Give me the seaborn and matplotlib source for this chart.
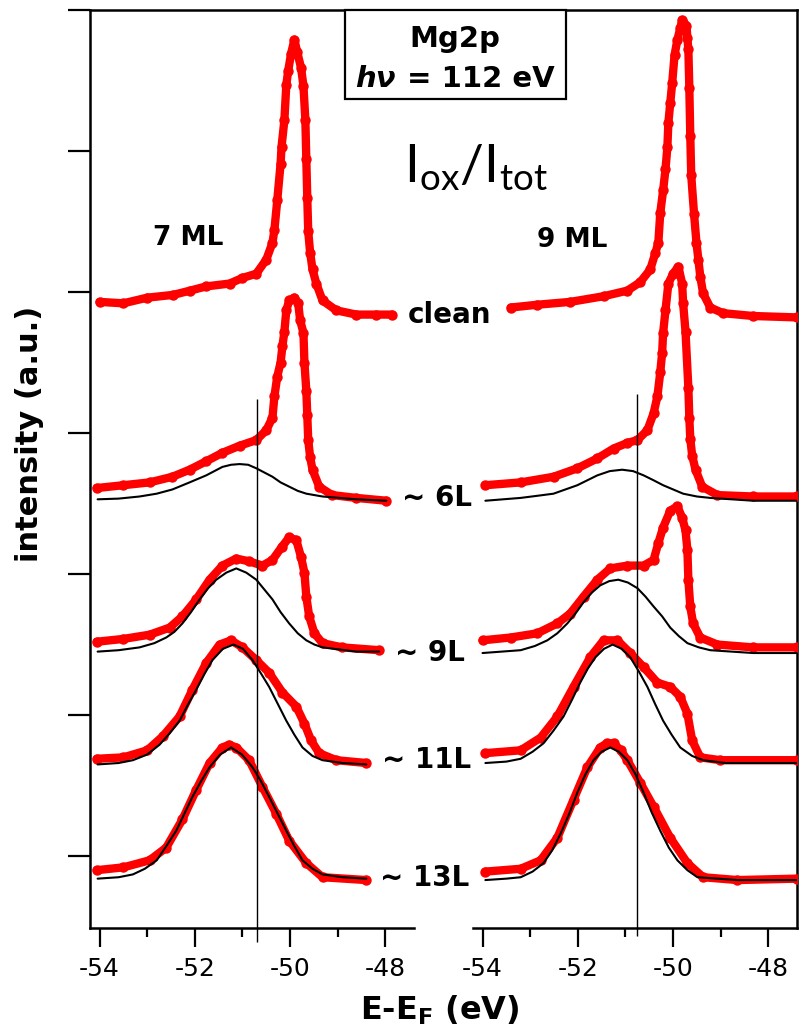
import matplotlib
matplotlib.use("Agg")
import matplotlib.pyplot as plt
import seaborn as sns
from matplotlib.patches import Rectangle

sns.set_style("white")
plt.rcParams["font.family"] = ["DejaVu Sans"]
plt.rcParams["text.color"] = "black"
plt.rcParams["axes.labelcolor"] = "black"
plt.rcParams["xtick.color"] = "black"
plt.rcParams["ytick.color"] = "black"

# ---------------- data (E in eV, intensity in a.u. with offsets) -------------
# 7 ML panel, measured spectra
E_7_clean = [-54.0, -53.5, -53.0, -52.45, -52.1, -51.76, -51.27, -51.0, -50.71, -50.5, -50.37, -50.33,
             -50.27, -50.2, -50.18, -50.12, -50.08, -50.04, -49.98, -49.91, -49.85, -49.77, -49.72,
             -49.68, -49.66, -49.64, -49.62, -49.58, -49.53, -49.45, -49.32, -49.03, -48.61, -48.19, -47.86]
I_7_clean = [3.93, 3.92, 3.96, 3.98, 4.01, 4.04, 4.06, 4.10, 4.13, 4.23, 4.35, 4.44,
             4.65, 4.91, 5.03, 5.22, 5.47, 5.57, 5.69, 5.79, 5.70, 5.59, 5.46,
             5.22, 4.94, 4.67, 4.43, 4.28, 4.16, 4.06, 3.94, 3.87, 3.84, 3.84, 3.84]

E_7_6L = [-54.06, -53.5, -52.95, -52.47, -52.11, -51.76, -51.42, -51.06, -50.71, -50.5, -50.37, -50.33,
          -50.27, -50.2, -50.16, -50.12, -50.08, -50.02, -49.91, -49.83, -49.79, -49.72, -49.70, -49.66,
          -49.64, -49.62, -49.58, -49.53, -49.39, -49.12, -48.61, -47.98]
I_7_6L = [2.61, 2.63, 2.65, 2.69, 2.74, 2.80, 2.86, 2.91, 2.95, 3.02, 3.11, 3.26,
          3.40, 3.50, 3.62, 3.72, 3.87, 3.94, 3.96, 3.92, 3.80, 3.71, 3.50, 3.30,
          3.13, 2.95, 2.83, 2.74, 2.62, 2.56, 2.54, 2.52]

E_7_9L = [-54.06, -53.5, -52.95, -52.53, -52.26, -51.97, -51.69, -51.42, -51.13, -50.86, -50.58, -50.37,
          -50.18, -50.02, -49.87, -49.77, -49.70, -49.66, -49.60, -49.49, -49.32, -48.91, -48.13]
I_7_9L = [1.52, 1.54, 1.57, 1.62, 1.70, 1.82, 1.96, 2.06, 2.11, 2.09, 2.06, 2.10,
          2.19, 2.26, 2.24, 2.12, 2.01, 1.84, 1.70, 1.58, 1.51, 1.48, 1.46]

E_7_11L = [-54.06, -53.5, -53.0, -52.67, -52.32, -52.05, -51.76, -51.48, -51.24, -51.0, -50.71, -50.44,
           -50.16, -49.87, -49.70, -49.56, -49.39, -49.03, -48.40]
I_7_11L = [0.69, 0.70, 0.75, 0.85, 0.99, 1.18, 1.37, 1.50, 1.53, 1.48, 1.39, 1.30,
           1.16, 1.06, 0.94, 0.82, 0.73, 0.68, 0.66]

E_7_13L = [-54.06, -53.5, -52.95, -52.6, -52.26, -51.97, -51.69, -51.42, -51.28, -51.13, -50.86, -50.58,
           -50.29, -50.02, -49.66, -49.32, -48.40]
I_7_13L = [-0.10, -0.08, -0.03, 0.06, 0.26, 0.47, 0.66, 0.77, 0.79, 0.77, 0.68, 0.49,
           0.30, 0.11, -0.05, -0.15, -0.17]

# 7 ML panel, oxide component fits
E_7_6L_fit = [-54.04, -53.6, -53.16, -52.8, -52.47, -52.11, -51.76, -51.42, -51.24, -51.06, -50.88,
              -50.71, -50.54, -50.37, -50.2, -50.02, -49.84, -49.66, -49.32, -48.61, -47.98]
I_7_6L_fit = [2.53, 2.535, 2.55, 2.57, 2.60, 2.65, 2.70, 2.76, 2.775, 2.78, 2.775,
              2.75, 2.72, 2.69, 2.65, 2.62, 2.59, 2.57, 2.55, 2.53, 2.52]

E_7_9L_fit = [-54.04, -53.6, -53.16, -52.85, -52.6, -52.43, -52.26, -52.08, -51.9, -51.72, -51.55,
              -51.34, -51.13, -50.92, -50.71, -50.54, -50.37, -50.2, -50.02, -49.84, -49.66, -49.49,
              -49.32, -48.61, -48.13]
I_7_9L_fit = [1.45, 1.46, 1.48, 1.51, 1.55, 1.59, 1.65, 1.73, 1.82, 1.90, 1.96,
              2.01, 2.04, 2.01, 1.96, 1.89, 1.82, 1.73, 1.65, 1.58, 1.53, 1.50,
              1.48, 1.45, 1.45]

E_7_11L_fit = [-54.04, -53.6, -53.3, -53.0, -52.74, -52.53, -52.32, -52.15, -51.97, -51.8, -51.63,
               -51.41, -51.19, -50.99, -50.79, -50.62, -50.44, -50.26, -50.08, -49.91, -49.74, -49.53,
               -49.32, -48.9, -48.40]
I_7_11L_fit = [0.65, 0.66, 0.68, 0.72, 0.79, 0.87, 0.96, 1.07, 1.18, 1.29, 1.39,
               1.47, 1.50, 1.47, 1.39, 1.30, 1.20, 1.08, 0.96, 0.86, 0.77, 0.71,
               0.68, 0.66, 0.65]

E_7_13L_fit = [-54.04, -53.6, -53.3, -53.05, -52.8, -52.6, -52.39, -52.22, -52.05, -51.87, -51.69,
               -51.47, -51.24, -51.01, -50.79, -50.61, -50.44, -50.26, -50.08, -49.91, -49.74, -49.53,
               -49.32, -48.9, -48.40]
I_7_13L_fit = [-0.16, -0.15, -0.13, -0.09, -0.03, 0.07, 0.18, 0.30, 0.42, 0.53, 0.63,
               0.72, 0.77, 0.72, 0.63, 0.53, 0.42, 0.30, 0.18, 0.07, -0.03, -0.09,
               -0.13, -0.15, -0.16]

# 9 ML panel, measured spectra
E_9_clean = [-53.41, -52.85, -52.16, -51.46, -50.96, -50.69, -50.48, -50.37, -50.31, -50.27, -50.21,
             -50.16, -50.12, -50.10, -50.06, -50.02, -49.97, -49.91, -49.85, -49.81, -49.72, -49.70,
             -49.68, -49.66, -49.64, -49.62, -49.56, -49.51, -49.47, -49.43, -49.37, -49.22, -48.95,
             -48.32, -47.40]
I_9_clean = [3.89, 3.91, 3.93, 3.97, 4.01, 4.07, 4.16, 4.28, 4.35, 4.56, 4.72,
             4.87, 5.03, 5.20, 5.34, 5.48, 5.68, 5.79, 5.87, 5.93, 5.89, 5.80,
             5.72, 5.45, 5.11, 4.83, 4.55, 4.35, 4.23, 4.11, 3.99, 3.89, 3.85,
             3.83, 3.82]

E_9_6L = [-53.94, -53.2, -52.51, -52.01, -51.59, -51.25, -50.96, -50.75, -50.54, -50.41, -50.33, -50.27,
          -50.23, -50.21, -50.16, -50.10, -50.0, -49.89, -49.81, -49.79, -49.74, -49.68, -49.66, -49.64,
          -49.60, -49.53, -49.39, -49.07, -48.32, -47.40]
I_9_6L = [2.63, 2.65, 2.69, 2.75, 2.82, 2.89, 2.93, 2.95, 3.02, 3.14, 3.26, 3.43,
          3.57, 3.71, 3.87, 4.06, 4.13, 4.18, 4.06, 3.92, 3.72, 3.32, 3.11, 2.96,
          2.84, 2.74, 2.62, 2.56, 2.55, 2.55]

E_9_9L = [-54.0, -53.41, -52.85, -52.43, -52.16, -51.88, -51.59, -51.32, -50.96, -50.62, -50.41, -50.31,
          -50.21, -50.06, -49.91, -49.81, -49.74, -49.70, -49.68, -49.64, -49.58, -49.43, -49.07, -48.32,
          -47.40]
I_9_9L = [1.53, 1.55, 1.58, 1.65, 1.72, 1.84, 1.96, 2.04, 2.06, 2.06, 2.10, 2.22,
          2.33, 2.45, 2.48, 2.40, 2.31, 2.17, 1.96, 1.77, 1.65, 1.55, 1.50, 1.48,
          1.48]

E_9_11L = [-53.94, -53.2, -52.78, -52.43, -52.09, -51.74, -51.46, -51.17, -50.90, -50.62, -50.33, -50.06,
           -49.85, -49.70, -49.60, -49.43, -49.01, -47.40]
I_9_11L = [0.73, 0.75, 0.84, 0.99, 1.20, 1.41, 1.53, 1.53, 1.44, 1.34, 1.23, 1.20,
           1.13, 1.01, 0.82, 0.70, 0.68, 0.68]

E_9_13L = [-53.94, -53.2, -52.78, -52.43, -52.09, -51.80, -51.53, -51.39, -51.25, -51.1, -50.96, -50.69,
           -50.41, -50.06, -49.70, -49.37, -48.65, -47.40]
I_9_13L = [-0.11, -0.09, -0.03, 0.13, 0.40, 0.63, 0.77, 0.80, 0.80, 0.75, 0.68, 0.52,
           0.35, 0.13, -0.05, -0.15, -0.17, -0.16]

# 9 ML panel, oxide component fits
E_9_6L_fit = [-53.94, -53.2, -52.85, -52.51, -52.26, -52.01, -51.8, -51.59, -51.33, -51.07, -50.84,
              -50.62, -50.41, -50.21, -50.0, -49.79, -49.5, -49.22, -48.32, -47.40]
I_9_6L_fit = [2.52, 2.54, 2.555, 2.57, 2.60, 2.63, 2.665, 2.70, 2.73, 2.74, 2.73,
              2.70, 2.665, 2.63, 2.60, 2.57, 2.55, 2.54, 2.52, 2.52]

E_9_9L_fit = [-54.0, -53.6, -53.2, -52.9, -52.64, -52.43, -52.22, -52.05, -51.88, -51.7, -51.53,
              -51.34, -51.15, -50.95, -50.75, -50.58, -50.41, -50.23, -50.06, -49.88, -49.70, -49.46,
              -49.22, -48.32, -47.40]
I_9_9L_fit = [1.44, 1.45, 1.46, 1.49, 1.53, 1.58, 1.65, 1.72, 1.80, 1.87, 1.92,
              1.95, 1.96, 1.94, 1.90, 1.84, 1.77, 1.70, 1.62, 1.56, 1.51, 1.48,
              1.46, 1.44, 1.44]

E_9_11L_fit = [-53.94, -53.5, -53.2, -52.95, -52.72, -52.51, -52.30, -52.12, -51.95, -51.79, -51.63,
               -51.45, -51.27, -51.08, -50.90, -50.72, -50.54, -50.38, -50.21, -50.03, -49.85, -49.6,
               -49.37, -48.9, -48.32, -47.40]
I_9_11L_fit = [0.66, 0.67, 0.69, 0.74, 0.80, 0.89, 0.99, 1.11, 1.23, 1.33, 1.41,
               1.47, 1.50, 1.47, 1.41, 1.31, 1.20, 1.08, 0.96, 0.86, 0.77, 0.71,
               0.68, 0.66, 0.66, 0.66]

E_9_13L_fit = [-53.94, -53.5, -53.2, -52.95, -52.72, -52.54, -52.36, -52.18, -52.01, -51.84, -51.67,
               -51.5, -51.32, -51.14, -50.96, -50.79, -50.62, -50.45, -50.27, -50.09, -49.91, -49.7,
               -49.49, -48.65, -47.40]
I_9_13L_fit = [-0.17, -0.16, -0.15, -0.11, -0.05, 0.04, 0.16, 0.30, 0.45, 0.58, 0.68,
               0.74, 0.77, 0.74, 0.68, 0.58, 0.45, 0.31, 0.18, 0.06, -0.03, -0.10,
               -0.15, -0.17, -0.17]

# reference energy markers (eV) and their vertical extent (a.u.)
vline_7ML = -50.69
vline_9ML = -50.75
vline_7ML_span = (-0.61, 3.24)
vline_9ML_span = (-0.57, 3.28)

x_major = [-54, -52, -50, -48]
x_minor = [-53, -51, -49]
x_ticklabels = ["-54", "-52", "-50", "-48"]
y_ticks = [0, 1, 2, 3, 4, 5, 6]

dose_labels = ["clean", "~ 6L", "~ 9L", "~ 11L", "~ 13L"]

# ---------------- figure ----------------
W, H = 799, 1028
fig = plt.figure(figsize=(W / 100, H / 100), dpi=100)
axL = fig.add_axes([90 / W, 1 - 928 / H, 324 / W, 918 / H])
axR = fig.add_axes([473 / W, 1 - 928 / H, 324 / W, 918 / H])

RED = "#FF0000"

def draw_panel(ax, spectra, fits):
    for E, I in spectra:
        sns.lineplot(x=E, y=I, ax=ax, color=RED, lw=6.0, marker="o", markersize=7.5,
                     markeredgewidth=0, sort=False, estimator=None, zorder=3,
                     solid_joinstyle="round", solid_capstyle="round")
    for E, I in fits:
        sns.lineplot(x=E, y=I, ax=ax, color="black", lw=1.5, sort=False, estimator=None, zorder=4,
                     solid_joinstyle="round")

draw_panel(axL,
           [(E_7_clean, I_7_clean), (E_7_6L, I_7_6L), (E_7_9L, I_7_9L), (E_7_11L, I_7_11L), (E_7_13L, I_7_13L)],
           [(E_7_6L_fit, I_7_6L_fit), (E_7_9L_fit, I_7_9L_fit), (E_7_11L_fit, I_7_11L_fit), (E_7_13L_fit, I_7_13L_fit)])
draw_panel(axR,
           [(E_9_clean, I_9_clean), (E_9_6L, I_9_6L), (E_9_9L, I_9_9L), (E_9_11L, I_9_11L), (E_9_13L, I_9_13L)],
           [(E_9_6L_fit, I_9_6L_fit), (E_9_9L_fit, I_9_9L_fit), (E_9_11L_fit, I_9_11L_fit), (E_9_13L_fit, I_9_13L_fit)])

axL.vlines(vline_7ML, vline_7ML_span[0], vline_7ML_span[1], color="black", lw=1.0, clip_on=False, zorder=5)
axR.vlines(vline_9ML, vline_9ML_span[0], vline_9ML_span[1], color="black", lw=1.0, clip_on=False, zorder=5)

for ax in (axL, axR):
    ax.set_xlim(-54.2, -47.4)
    ax.set_ylim(-0.51, 6.0)
    ax.set_xticks(x_major)
    ax.set_xticklabels(x_ticklabels)
    ax.set_xticks(x_minor, minor=True)
    ax.tick_params(axis="x", which="major", direction="out", length=14, width=1.6,
                   labelsize=18, pad=7, bottom=True, colors="black")
    ax.tick_params(axis="x", which="minor", direction="out", length=6.5, width=1.6, bottom=True,
                   colors="black")
    ax.set_xlabel("")
    ax.set_ylabel("")
    for s in ax.spines.values():
        s.set_linewidth(1.8)
        s.set_color("black")
    ax.set_facecolor("none")

axL.set_yticks(y_ticks)
axL.set_yticklabels([])
axL.tick_params(axis="y", direction="out", length=16, width=1.6, left=True, colors="black")
axL.spines["right"].set_visible(False)
axR.set_yticks([])
axR.spines["left"].set_visible(False)

# dose labels
label_pos = [(408, 315), (402, 498), (395, 653), (382, 760), (380, 878)]
for txt, (px, py) in zip(dose_labels, label_pos):
    fig.text(px / W, 1 - py / H, txt, fontsize=20, fontweight="bold", ha="left", va="center",
             color="black")

fig.text(188 / W, 1 - 238 / H, "7 ML", fontsize=19, fontweight="bold", ha="center", va="center", color="black")
fig.text(572 / W, 1 - 240 / H, "9 ML", fontsize=19, fontweight="bold", ha="center", va="center", color="black")

# title box
box = Rectangle((345 / W, 1 - 99 / H), 221 / W, 89 / H, transform=fig.transFigure,
                facecolor="white", edgecolor="black", lw=1.6, zorder=6)
fig.add_artist(box)
fig.text(455 / W, 1 - 47 / H, "Mg2p", fontsize=21, fontweight="bold", ha="center", va="baseline",
         zorder=7, color="black")
fig.text(355 / W, 1 - 87 / H, "h\u03bd", fontsize=21, fontweight="bold", fontstyle="italic",
         ha="left", va="baseline", zorder=7, color="black")
fig.text(555 / W, 1 - 87 / H, "= 112 eV", fontsize=21, fontweight="bold", ha="right", va="baseline",
         zorder=7, color="black")

fig.text(404 / W, 1 - 168 / H, r"$\mathregular{I_{ox}/I_{tot}}$", fontsize=38, family=["Lato", "DejaVu Sans"],
         ha="left", va="center", color="black")

fig.text(30 / W, 1 - 434 / H, "intensity (a.u.)", fontsize=22, fontweight="bold", rotation=90,
         ha="center", va="center", color="black")
fig.text(440 / W, 1 - 1020 / H, r"E-E$_\mathregular{F}$ (eV)", fontsize=23, fontweight="bold",
         ha="center", va="baseline", color="black")

fig.savefig("out.png", dpi=100)
